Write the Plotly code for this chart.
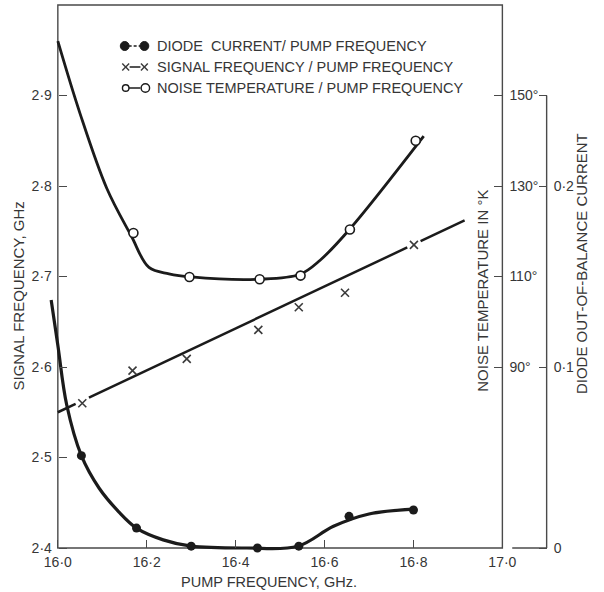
import plotly.graph_objects as go

# ---------------- data ----------------
# pump frequency axis (GHz)
pump_ticks = [16.0, 16.2, 16.4, 16.6, 16.8, 17.0]
pump_tick_labels = ["16·0", "16·2", "16·4", "16·6", "16·8", "17·0"]

# signal frequency axis (GHz)
sig_ticks = [2.4, 2.5, 2.6, 2.7, 2.8, 2.9]
sig_tick_labels = ["2·4", "2·5", "2·6", "2·7", "2·8", "2·9"]

# noise temperature axis (°K)
temp_ticks = [90, 110, 130, 150]
temp_tick_labels = ["90°", "110°", "130°", "150°"]

# diode out-of-balance current axis
cur_ticks = [0.0, 0.1, 0.2, 0.25]
cur_tick_labels = ["0", "0·1", "0·2", ""]

# diode current / pump frequency
diode_pump = [16.053, 16.177, 16.30, 16.449, 16.542, 16.655, 16.80]
diode_current = [0.051, 0.011, 0.001, 0.0, 0.001, 0.0175, 0.021]
diode_curve_pump = [15.985, 16.0, 16.02, 16.053, 16.093, 16.137, 16.177,
                    16.237, 16.30, 16.425, 16.54, 16.62, 16.70, 16.80]
diode_curve_current = [0.137, 0.112, 0.079, 0.051, 0.033, 0.020, 0.011,
                       0.0045, 0.001, 0.0, 0.001, 0.0120, 0.0188, 0.0215]

# signal frequency / pump frequency
signal_pump = [16.055, 16.168, 16.29, 16.451, 16.542, 16.646, 16.801]
signal_freq = [2.560, 2.596, 2.609, 2.641, 2.666, 2.682, 2.735]
signal_line_pump = [16.0, 16.915]
signal_line_freq = [2.550, 2.762]

# noise temperature / pump frequency
noise_pump = [16.170, 16.296, 16.454, 16.546, 16.657, 16.805]
noise_temp = [119.6, 109.9, 109.4, 110.2, 120.4, 140.0]
noise_curve_pump = [16.0, 16.05, 16.11, 16.165, 16.205, 16.25, 16.30,
                    16.454, 16.545, 16.59, 16.657, 16.823]
noise_curve_temp = [162, 146, 129.5, 119.0, 112.0, 110.6, 109.9,
                    109.4, 110.5, 113.6, 120.5, 141]

# ---------------- geometry ----------------
FIG_W, FIG_H = 604, 592
M_L, M_R, M_T, M_B = 48, 10, 5, 40
PLOT_W = FIG_W - M_L - M_R
PLOT_H = FIG_H - M_T - M_B

PX_PER_GHZ = 452.0          # pump-frequency scale
PX_PER_SIG = 905.0          # signal-frequency scale (per GHz)
PX_X16 = 58                 # pixel column of 16.0 GHz
PX_Y24 = 548                # pixel row of 2.4 GHz

x_min = 16.0 - (PX_X16 - M_L) / PX_PER_GHZ
x_max = 17.0
x_dom_end = (PX_X16 + PX_PER_GHZ - M_L) / PLOT_W

y_min = 2.4 - (FIG_H - M_B - PX_Y24) / PX_PER_SIG
y_max = 2.4 + (PX_Y24 - M_T) / PX_PER_SIG


def sig_to_temp(f):
    return 90 + (f - 2.6) * 200


def sig_to_cur(f):
    return (f - 2.4) / 2


def xp(x):
    return (x - x_min) / (x_max - x_min) * x_dom_end


def yp(y):
    return (y - y_min) / (y_max - y_min)


def px_x(px):
    return (px - M_L) / PLOT_W


def px_y(py):
    return (FIG_H - M_B - py) / PLOT_H


# the fitted signal line is broken where it runs through a measured cross
def broken_line(x0, y0, x1, y1, px, py, gap=0.015, tol=0.005):
    slope = (y1 - y0) / (x1 - x0)
    cuts = sorted(x for x, y in zip(px, py) if abs(y0 + slope * (x - x0) - y) < tol)
    xs, ys = [x0], [y0]
    for c in cuts:
        xa = c - gap
        xs.append(xa); ys.append(y0 + slope * (xa - x0))
        xs.append(None); ys.append(None)
        xb = c + gap
        xs.append(xb); ys.append(y0 + slope * (xb - x0))
    xs.append(x1); ys.append(y1)
    return xs, ys


INK = "#1b1b1b"
TXT = "#363636"
FRAME = "#4a4a4a"
FONT = "Liberation Sans"

fig = go.Figure()

sig_lx, sig_ly = broken_line(signal_line_pump[0], signal_line_freq[0],
                             signal_line_pump[1], signal_line_freq[1],
                             signal_pump, signal_freq)

# curves
fig.add_trace(go.Scatter(x=noise_curve_pump, y=noise_curve_temp, yaxis="y2",
                         mode="lines", line=dict(color=INK, width=2.8, shape="spline", smoothing=1.0),
                         hoverinfo="skip", showlegend=False))
fig.add_trace(go.Scatter(x=sig_lx, y=sig_ly, yaxis="y", connectgaps=False,
                         mode="lines", line=dict(color=INK, width=2.5),
                         hoverinfo="skip", showlegend=False))
fig.add_trace(go.Scatter(x=diode_curve_pump, y=diode_curve_current, yaxis="y3",
                         mode="lines", line=dict(color=INK, width=3.2, shape="spline", smoothing=1.0),
                         hoverinfo="skip", showlegend=False))

# measured points
fig.add_trace(go.Scatter(x=noise_pump, y=noise_temp, yaxis="y2", mode="markers",
                         marker=dict(symbol="circle", size=9, color="white",
                                     line=dict(color=INK, width=1.6)),
                         cliponaxis=False, name="NOISE TEMPERATURE / PUMP FREQUENCY", showlegend=False))
fig.add_trace(go.Scatter(x=signal_pump, y=signal_freq, yaxis="y", mode="markers",
                         marker=dict(symbol="x-thin", size=8, line=dict(color="#3a3a3a", width=1.6)),
                         cliponaxis=False, name="SIGNAL FREQUENCY / PUMP FREQUENCY", showlegend=False))
fig.add_trace(go.Scatter(x=diode_pump, y=diode_current, yaxis="y3", mode="markers",
                         marker=dict(symbol="circle", size=9, color=INK),
                         cliponaxis=False, name="DIODE CURRENT / PUMP FREQUENCY", showlegend=False))

tick_font = dict(family=FONT, size=14, color=TXT)

fig.update_layout(
    width=FIG_W, height=FIG_H,
    margin=dict(l=M_L, r=M_R, t=M_T, b=M_B),
    paper_bgcolor="white", plot_bgcolor="white",
    showlegend=False,
    xaxis=dict(domain=[0, x_dom_end], range=[x_min, x_max],
               anchor="free", position=yp(2.4),
               tickmode="array", tickvals=pump_ticks, ticktext=pump_tick_labels,
               ticks="inside", ticklen=8, tickwidth=1.3, tickcolor=FRAME,
               showgrid=False, zeroline=False, showline=False,
               tickfont=tick_font, ticklabelstandoff=4),
    yaxis=dict(range=[y_min, y_max], anchor="free", position=xp(16.0),
               tickmode="array", tickvals=sig_ticks, ticktext=sig_tick_labels,
               ticks="inside", ticklen=8, tickwidth=1.3, tickcolor=FRAME,
               showgrid=False, zeroline=False, showline=False,
               tickfont=tick_font, ticklabelstandoff=6),
    yaxis2=dict(range=[sig_to_temp(y_min), sig_to_temp(y_max)], overlaying="y",
                anchor="x", side="right",
                tickmode="array", tickvals=temp_ticks, ticktext=temp_tick_labels,
                ticks="inside", ticklen=8, tickwidth=1.3, tickcolor=FRAME,
                showgrid=False, zeroline=False, showline=False,
                tickfont=tick_font, ticklabelstandoff=6),
    yaxis3=dict(range=[sig_to_cur(y_min), sig_to_cur(y_max)], overlaying="y",
                anchor="free", side="right", position=px_x(555),
                tickmode="array", tickvals=cur_ticks, ticktext=cur_tick_labels,
                ticks="inside", ticklen=8, tickwidth=1.3, tickcolor=FRAME,
                showgrid=False, zeroline=False, showline=False,
                tickfont=tick_font, ticklabelstandoff=6),
)

shapes = []
# main frame
shapes.append(dict(type="rect", xref="paper", yref="paper",
                   x0=xp(16.0), x1=xp(17.0), y0=yp(2.4), y1=yp(3.0),
                   line=dict(color=FRAME, width=1.4), layer="below"))
# current scale: spine from 0 to 0.25 with a base line
cur_x = px_x(555)
shapes.append(dict(type="line", xref="paper", yref="paper",
                   x0=cur_x, x1=cur_x, y0=yp(2.4 + 2 * 0.0), y1=yp(2.4 + 2 * 0.25),
                   line=dict(color=FRAME, width=1.4)))
shapes.append(dict(type="line", xref="paper", yref="paper",
                   x0=px_x(520), x1=cur_x, y0=yp(2.4), y1=yp(2.4),
                   line=dict(color=FRAME, width=1.4)))

# legend glyphs
rows = [46, 67, 88]
# filled dots joined by a dashed line
shapes.append(dict(type="line", xref="paper", yref="paper",
                   x0=px_x(130), x1=px_x(142), y0=px_y(rows[0]), y1=px_y(rows[0]),
                   line=dict(color=INK, width=1.3, dash="3px,2px")))
for cx in (126, 146):
    shapes.append(dict(type="circle", xref="paper", yref="paper",
                       x0=px_x(cx - 4.5), x1=px_x(cx + 4.5),
                       y0=px_y(rows[0] + 4.5), y1=px_y(rows[0] - 4.5),
                       fillcolor=INK, line=dict(color=INK, width=1)))
# crosses joined by a solid line
shapes.append(dict(type="line", xref="paper", yref="paper",
                   x0=px_x(131), x1=px_x(142), y0=px_y(rows[1]), y1=px_y(rows[1]),
                   line=dict(color=INK, width=1.5)))
for cx in (127, 146):
    for d in (1, -1):
        shapes.append(dict(type="line", xref="paper", yref="paper",
                           x0=px_x(cx - 3.5), x1=px_x(cx + 3.5),
                           y0=px_y(rows[1] - 3.5 * d), y1=px_y(rows[1] + 3.5 * d),
                           line=dict(color="#3a3a3a", width=1.4)))
# open circles joined by a solid line
shapes.append(dict(type="line", xref="paper", yref="paper",
                   x0=px_x(130), x1=px_x(142), y0=px_y(rows[2]), y1=px_y(rows[2]),
                   line=dict(color=INK, width=1.5)))
for cx, r in ((127, 3.3), (147, 4.3)):
    shapes.append(dict(type="circle", xref="paper", yref="paper",
                       x0=px_x(cx - r), x1=px_x(cx + r),
                       y0=px_y(rows[2] + r), y1=px_y(rows[2] - r),
                       fillcolor="white", line=dict(color=INK, width=1.4)))

legend_texts = ["DIODE  CURRENT/ PUMP FREQUENCY",
                "SIGNAL FREQUENCY / PUMP FREQUENCY",
                "NOISE TEMPERATURE / PUMP FREQUENCY"]
annotations = []
for ry, txt in zip(rows, legend_texts):
    annotations.append(dict(text=txt, xref="paper", yref="paper",
                            x=px_x(157), y=px_y(ry), xanchor="left", yanchor="middle",
                            showarrow=False, font=dict(family=FONT, size=14.5, color=TXT)))

title_font = dict(family=FONT, size=15, color=TXT)
annotations += [
    dict(text="SIGNAL FREQUENCY, GHz", xref="paper", yref="paper",
         x=px_x(19), y=px_y(296), textangle=-90, showarrow=False, font=title_font,
         xanchor="center", yanchor="middle"),
    dict(text="NOISE TEMPERATURE IN °K", xref="paper", yref="paper",
         x=px_x(489), y=px_y(291), textangle=-90, showarrow=False, font=title_font,
         xanchor="center", yanchor="middle"),
    dict(text="DIODE OUT-OF-BALANCE CURRENT", xref="paper", yref="paper",
         x=px_x(590), y=px_y(264), textangle=-90, showarrow=False, font=title_font,
         xanchor="center", yanchor="middle"),
    dict(text="PUMP FREQUENCY, GHz.", xref="paper", yref="paper",
         x=px_x(273), y=px_y(582), showarrow=False,
         font=dict(family=FONT, size=14.5, color=TXT),
         xanchor="center", yanchor="middle"),
]

fig.update_layout(shapes=shapes, annotations=annotations)

fig.write_html("out.html")
